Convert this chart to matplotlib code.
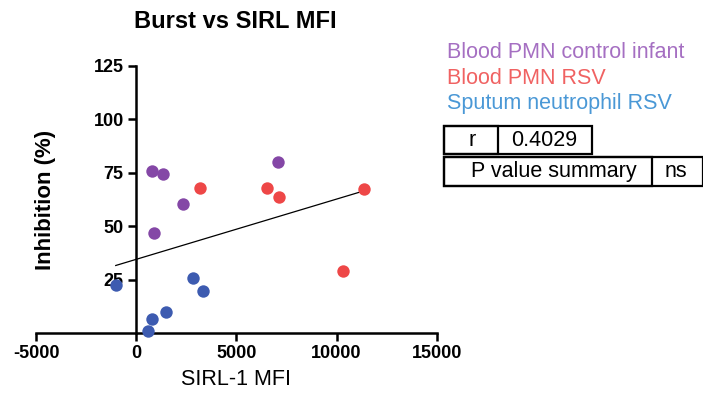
import matplotlib.pyplot as plt
import matplotlib.patches as patches
import numpy as np

plt.rcParams['font.family'] = ['Liberation Sans', 'DejaVu Sans']
plt.rcParams['axes.unicode_minus'] = False

# data
control_x = [800, 1330, 2350, 865, 7100]
control_y = [75.7, 74.3, 60.4, 47.0, 80.0]
rsv_x = [3180, 6550, 7130, 11380, 10330]
rsv_y = [67.9, 68.0, 63.8, 67.4, 29.1]
sputum_x = [-1020, 2830, 3350, 1500, 780, 615]
sputum_y = [22.5, 25.6, 19.5, 9.7, 6.6, 0.8]

group_names = ["Blood PMN control infant", "Blood PMN RSV", "Sputum neutrophil RSV"]
dot_colors = ["#8447a6", "#ee4747", "#3d5bb0"]
text_colors = ["#a56fc2", "#f06262", "#4a98d6"]
r_value = "0.4029"
p_summary = "ns"

x_ticks = [-5000, 0, 5000, 10000, 15000]
y_ticks = [25, 50, 75, 100, 125]

fig = plt.figure(figsize=(7.03, 3.98), dpi=100)
ax = fig.add_axes([36/703, 1 - 333/398, 400.7/703, 267/398])

groups = [(control_x, control_y), (rsv_x, rsv_y), (sputum_x, sputum_y)]
for (gx, gy), c in zip(groups, dot_colors):
    ax.scatter(gx, gy, s=80, color=c, zorder=3, clip_on=False, linewidths=0)

# linear fit over all points
all_x = np.array(control_x + rsv_x + sputum_x)
all_y = np.array(control_y + rsv_y + sputum_y)
slope, intercept = np.polyfit(all_x, all_y, 1)
lx = np.array([all_x.min(), 11130])
ax.plot(lx, slope * lx + intercept, color="black", lw=0.9, zorder=2)

ax.set_xlim(-5000, 15000)
ax.set_ylim(0, 125)
ax.spines['left'].set_position(('data', 0))
ax.spines['right'].set_visible(False)
ax.spines['top'].set_visible(False)
ax.spines['left'].set_linewidth(1.8)
ax.spines['bottom'].set_linewidth(1.8)
ax.set_xticks(x_ticks)
ax.set_yticks(y_ticks)
ax.tick_params(width=1.8, length=6, labelsize=13, pad=3)
for lab in ax.get_xticklabels() + ax.get_yticklabels():
    lab.set_fontweight("bold")
ax.set_xlabel("SIRL-1 MFI", fontsize=15.5, labelpad=5)

fig.text(46/703, 1 - 200/398, "Inhibition (%)", rotation=90, ha="center", va="center",
         fontsize=16, fontweight="bold")
fig.text(235/703, 1 - 21/398, "Burst vs SIRL MFI", ha="center", va="center",
         fontsize=17, fontweight="bold")

# legend as coloured text
for i, (name, c) in enumerate(zip(group_names, text_colors)):
    fig.text(447/703, 1 - (53 + 25 * i)/398, name, color=c, fontsize=15.5,
             ha="left", va="center")

# r / p value boxes
def box(x0, y0, x1, y1):
    fig.patches.append(patches.Rectangle((x0/703, 1 - y1/398), (x1 - x0)/703, (y1 - y0)/398,
                                         transform=fig.transFigure, fill=False,
                                         edgecolor="black", lw=1.6))

box(444, 126, 592, 154)
box(444, 126, 498, 154)
box(444, 157, 703, 186)
box(444, 157, 652, 186)
fig.text(472/703, 1 - 140/398, "r", fontsize=15.5, ha="center", va="center")
fig.text(544/703, 1 - 140/398, r_value, fontsize=15.5, ha="center", va="center")
fig.text(554/703, 1 - 171.5/398, "P value summary", fontsize=15.5, ha="center", va="center")
fig.text(676/703, 1 - 171.5/398, p_summary, fontsize=15.5, ha="center", va="center")

fig.savefig("out.png", dpi=100)
